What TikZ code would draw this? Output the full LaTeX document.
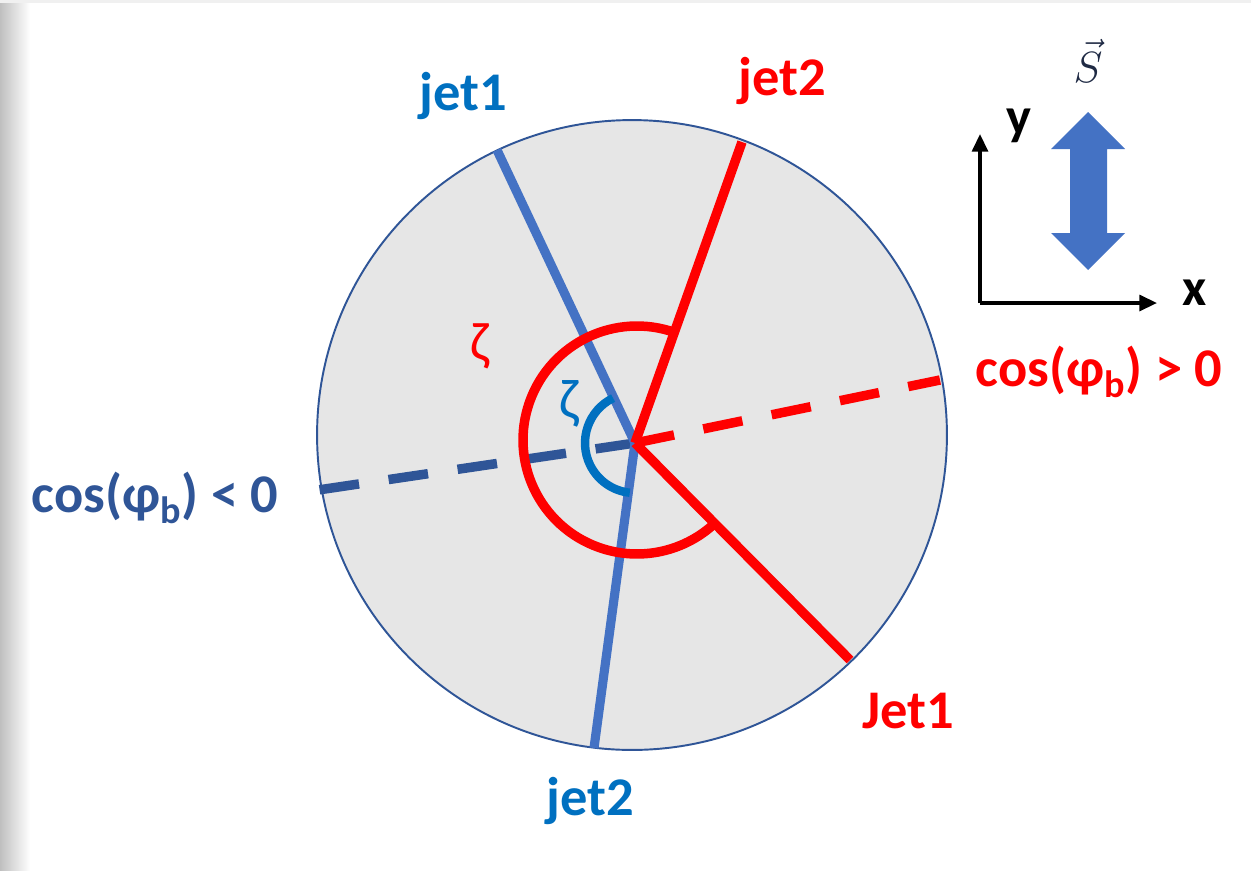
\documentclass[tikz,border=0pt]{standalone}
\usepackage{fontspec}
\setmainfont{Carlito}
\usetikzlibrary{arrows.meta}
\definecolor{jblue}{HTML}{4472C4}
\definecolor{lblue}{HTML}{0070C0}
\definecolor{dblue}{HTML}{2F5597}
\definecolor{diskfill}{HTML}{E6E6E6}
\definecolor{jred}{HTML}{FF0000}
\definecolor{sdark}{HTML}{1F2A44}
\begin{document}
\begin{tikzpicture}[x=0.02cm,y=-0.02cm,
  lbl/.style={font=\fontsize{31}{36}\selectfont\bfseries, inner sep=0pt, anchor=base},
  bluejet/.style={draw=jblue, line width=5.2pt},
  redjet/.style={draw=jred, line width=5.4pt},
  dashline/.style={line width=5.4pt, dash pattern=on 22.7pt off 17pt},
  axis/.style={draw=black, line width=1.9pt, -{Triangle[length=10pt,width=9pt]}}]
\useasboundingbox (0,0) rectangle (1251,870);
\fill[white] (0,0) rectangle (1251,870);
\shade[left color=black!25, right color=white] (0,0) rectangle (30,870);
\fill[black!6] (0,0) rectangle (1251,3);

% disk
\node[circle, draw=dblue, line width=1.1pt, fill=diskfill, minimum size=12.6cm, inner sep=0pt] (disk) at (632,435) {};

% points
\coordinate (O) at (635,443);
\coordinate (B1) at (497,150);
\coordinate (B2) at (594,748);
\coordinate (R2) at (742,142);
\coordinate (R1) at (850,660);
\coordinate (RD) at (940,380);
\coordinate (BD) at (318,490);
\coordinate (A) at (637,440);

% dashed lines
\draw[dashline, draw=dblue] (O) -- (BD);
\draw[dashline, draw=jred] (O) -- (RD);

% jets
\draw[bluejet] (O) -- (B1);
\draw[bluejet] (O) -- (B2);
\draw[redjet] (O) -- (R2);
\draw[redjet] (O) -- (R1);

% angles
\draw[draw=jred, line width=5.4pt] (A) ++(70.4:2.28cm) arc[start angle=70.4, end angle=314.7, radius=2.28cm];
\draw[draw=lblue, line width=4.8pt] (O) ++(116:1.0cm) arc[start angle=116, end angle=264, radius=1.0cm];

% labels
\node[lbl, text=lblue] (lj1) at (463,110) {jet1};
\node[lbl, text=jred] (lj2) at (782,95) {jet2};
\node[lbl, text=lblue] (lb2) at (590,815) {jet2};
\node[lbl, text=jred] (lr1) at (908,728) {Jet1};
\node[lbl, text=jred, font=\fontsize{31}{36}\selectfont] (zr) at (480,360) {ζ};
\node[lbl, text=lblue, font=\fontsize{32}{36}\selectfont] (zb) at (569,418) {ζ};
\node[lbl, text=jred] (cpos) at (1099,386) {cos(φ\textsubscript{b}) > 0};
\node[lbl, text=dblue] (cneg) at (155,512) {cos(φ\textsubscript{b}) < 0};

% axes
\coordinate (corner) at (980,303);
\coordinate (ytip) at (980,134);
\coordinate (xtip) at (1157,303);
\draw[axis] (corner) -- (ytip);
\draw[axis] (corner) -- (xtip);
\node[lbl, font=\fontsize{30}{36}\selectfont\bfseries] (ylab) at (1019,134) {y};
\node[lbl, font=\fontsize{30}{36}\selectfont\bfseries] (xlab) at (1195,305) {x};

% spin arrow
\fill[jblue] (1088,112) -- (1125,149) -- (1107,149) -- (1107,233) -- (1125,233)
  -- (1088,270) -- (1051,233) -- (1070,233) -- (1070,149) -- (1051,149) -- cycle;
\node[text=sdark, font=\fontsize{26}{30}\selectfont, anchor=base, inner sep=0pt] (S) at (1088,82) {$\vec{S}$};
\end{tikzpicture}
\end{document}
